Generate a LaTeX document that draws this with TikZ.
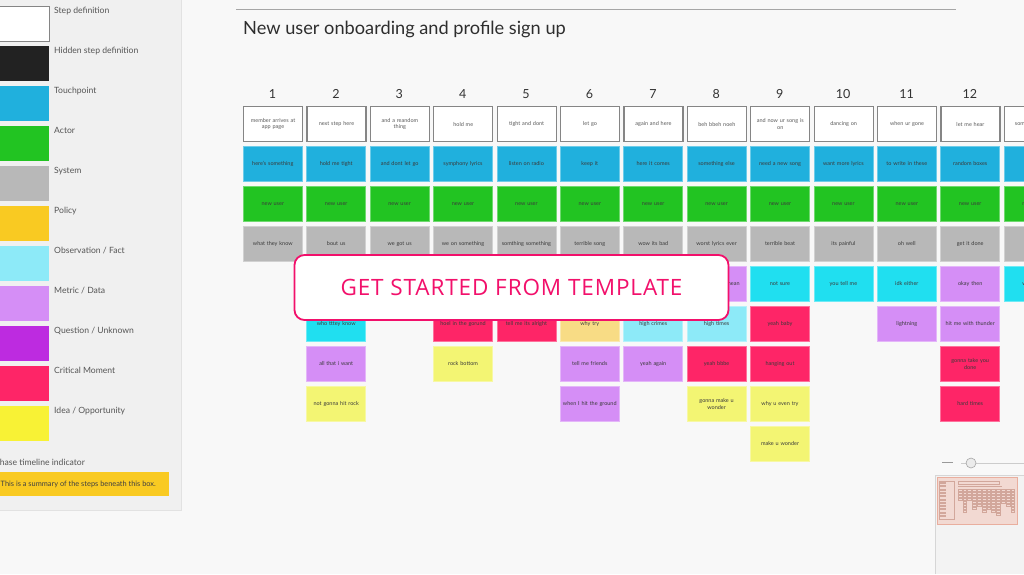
\documentclass[tikz,border=0pt]{standalone}
\usepackage{fontspec}
\setmainfont{Lato}
\newfontfamily\tmplfont[LetterSpace=4]{Open Sans}
\definecolor{bgmain}{HTML}{F8F8F8}
\definecolor{bgpanel}{HTML}{F0F0F0}
\definecolor{panelline}{HTML}{E2E2E2}
\definecolor{stepline}{HTML}{858585}
\definecolor{steptxt}{HTML}{5A5A5A}
\definecolor{cardtxt}{HTML}{3A3A3A}
\definecolor{legtxt}{HTML}{555555}
\definecolor{tpcol}{HTML}{20B0DD}
\definecolor{actcol}{HTML}{22C422}
\definecolor{syscol}{HTML}{B8B8B8}
\definecolor{polcol}{HTML}{F9CA22}
\definecolor{obscol}{HTML}{8DEAF8}
\definecolor{cyancol}{HTML}{20DFF0}
\definecolor{metcol}{HTML}{D58EF6}
\definecolor{quecol}{HTML}{BD2BE0}
\definecolor{critcol}{HTML}{FE2567}
\definecolor{ideacol}{HTML}{F8F235}
\definecolor{ideacard}{HTML}{F3F573}
\definecolor{orangecard}{HTML}{F8DC85}
\definecolor{hidcol}{HTML}{222222}
\definecolor{pinkline}{HTML}{F2106B}
\definecolor{mmbg}{HTML}{F3F3F3}
\definecolor{mmline}{HTML}{D6D6D6}
\definecolor{mmpink}{HTML}{F2D9D2}
\definecolor{mmpinkline}{HTML}{E9AE9E}
\definecolor{mmdark}{HTML}{D2A79B}
\newcommand\cardfs{\fontsize{5.5}{6.6}\selectfont}
\newcommand\legfs{\fontsize{8.6}{10}\selectfont}
\newcommand\crd[4]{\node[#3] (c#1-#2) at ({243+63.4*(#1-1)},{106+40*(#2-1)}) {#4};}
\newcommand\legsw[3]{\node[swatch,#2] (sw#1) at (-1,{5.5+40*(#1-1)}) {};
  \node[legtext] (lb#1) at (54,{13.5+40*(#1-1)}) {#3};}
\begin{document}
\begin{tikzpicture}[x=1pt,y=-1pt,
  card/.style={anchor=north west, minimum width=59pt, minimum height=35pt, inner sep=1pt,
    text width=55pt, align=center, font=\cardfs, text=cardtxt, line width=0.6pt},
  stepbox/.style={card, fill=white, draw=stepline, line width=1.1pt, text=steptxt},
  tpc/.style={card, fill=tpcol, draw=tpcol!65!white},
  actc/.style={card, fill=actcol, draw=actcol!65!white},
  sysc/.style={card, fill=syscol, draw=syscol!65!white},
  obsc/.style={card, fill=obscol, draw=obscol!65!white},
  cyanc/.style={card, fill=cyancol, draw=cyancol!65!white},
  metc/.style={card, fill=metcol, draw=metcol!65!white},
  critc/.style={card, fill=critcol, draw=critcol!65!white},
  ideac/.style={card, fill=ideacard, draw=ideacard!65!white},
  orac/.style={card, fill=orangecard, draw=orangecard!65!white},
  swatch/.style={anchor=north west, minimum width=50pt, minimum height=35pt, inner sep=0pt},
  legtext/.style={anchor=base west, inner sep=0pt, font=\legfs, text=legtxt},
  numtxt/.style={font=\fontsize{12.5}{14}\selectfont, text=black!80, inner sep=0pt}
]
\useasboundingbox (0,0) rectangle (1024,574);
\fill[bgmain] (0,0) rectangle (1024,574);
% legend panel
\fill[bgpanel] (0,0) rectangle (181.5,510);
\draw[panelline, line width=0.8pt] (181.5,0) -- (181.5,510.5) -- (0,510.5);
\legsw{1}{fill=white, draw=stepline, line width=1.1pt}{Step definition}
\legsw{2}{fill=hidcol}{Hidden step definition}
\legsw{3}{fill=tpcol}{Touchpoint}
\legsw{4}{fill=actcol}{Actor}
\legsw{5}{fill=syscol}{System}
\legsw{6}{fill=polcol}{Policy}
\legsw{7}{fill=obscol}{Observation / Fact}
\legsw{8}{fill=metcol}{Metric / Data}
\legsw{9}{fill=quecol}{Question / Unknown}
\legsw{10}{fill=critcol}{Critical Moment}
\legsw{11}{fill=ideacol}{Idea / Opportunity}
\node[legtext] (phase) at (-5.6,465.5) {Phase timeline indicator};
\node[anchor=north west, fill=polcol, minimum width=171pt, minimum height=24pt, inner sep=0pt] (summ) at (-2,472) {};
\node[anchor=west, inner sep=0pt, font=\fontsize{7.4}{8.5}\selectfont, text=black!75] (summt) at (0.5,484) {This is a summary of the steps beneath this box.};
% title
\draw[black!35, line width=0.7pt] (236,9) -- (956,9);
\node[anchor=west, inner sep=0pt, font=\fontsize{18.2}{21}\selectfont, text=black!82] (title) at (243,29) {New user onboarding and profile sign up};
% numbers
\foreach \i in {1,...,12} { \node[numtxt] (n\i) at ({272.5+63.4*(\i-1)},94) {\i}; }
% column 1
\crd{1}{1}{stepbox}{member arrives at\\app page}
\crd{1}{2}{tpc}{here's something}
\crd{1}{3}{actc}{new user}
\crd{1}{4}{sysc}{what they know}
% column 2
\crd{2}{1}{stepbox}{next step here}
\crd{2}{2}{tpc}{hold me tight}
\crd{2}{3}{actc}{new user}
\crd{2}{4}{sysc}{bout us}
\crd{2}{6}{cyanc}{who tttey know}
\crd{2}{7}{metc}{all that i want}
\crd{2}{8}{ideac}{not gonna hit rock}
% column 3
\crd{3}{1}{stepbox}{and a reandom\\thing}
\crd{3}{2}{tpc}{and dont let go}
\crd{3}{3}{actc}{new user}
\crd{3}{4}{sysc}{we got us}
% column 4
\crd{4}{1}{stepbox}{hold me}
\crd{4}{2}{tpc}{symphony lyrics}
\crd{4}{3}{actc}{new user}
\crd{4}{4}{sysc}{we on something}
\crd{4}{6}{critc}{hoel in the gorund}
\crd{4}{7}{ideac}{rock bottom}
% column 5
\crd{5}{1}{stepbox}{tight and dont}
\crd{5}{2}{tpc}{listen on radio}
\crd{5}{3}{actc}{new user}
\crd{5}{4}{sysc}{somthing something}
\crd{5}{6}{critc}{tell me its alright}
% column 6
\crd{6}{1}{stepbox}{let go}
\crd{6}{2}{tpc}{keep it}
\crd{6}{3}{actc}{new user}
\crd{6}{4}{sysc}{terrible song}
\crd{6}{6}{orac}{why try}
\crd{6}{7}{metc}{tell me friends}
\crd{6}{8}{metc}{when I hit the ground}
% column 7
\crd{7}{1}{stepbox}{again and here}
\crd{7}{2}{tpc}{here it comes}
\crd{7}{3}{actc}{new user}
\crd{7}{4}{sysc}{wow its bad}
\crd{7}{6}{obsc}{high crimes}
\crd{7}{7}{metc}{yeah again}
% column 8
\crd{8}{1}{stepbox}{beh bbeh noeh}
\crd{8}{2}{tpc}{something else}
\crd{8}{3}{actc}{new user}
\crd{8}{4}{sysc}{worst lyrics ever}
\crd{8}{5}{metc}{what do you mean}
\crd{8}{6}{obsc}{high times}
\crd{8}{7}{critc}{yeah bbbe}
\crd{8}{8}{ideac}{gonna make u\\wonder}
% column 9
\crd{9}{1}{stepbox}{and now ur song is\\on}
\crd{9}{2}{tpc}{need a new song}
\crd{9}{3}{actc}{new user}
\crd{9}{4}{sysc}{terrible beat}
\crd{9}{5}{cyanc}{not sure}
\crd{9}{6}{critc}{yeah baby}
\crd{9}{7}{critc}{hanging out}
\crd{9}{8}{ideac}{why u even try}
\crd{9}{9}{ideac}{make u wonder}
% column 10
\crd{10}{1}{stepbox}{dancing on}
\crd{10}{2}{tpc}{want more lyrics}
\crd{10}{3}{actc}{new user}
\crd{10}{4}{sysc}{its painful}
\crd{10}{5}{cyanc}{you tell me}
% column 11
\crd{11}{1}{stepbox}{when ur gone}
\crd{11}{2}{tpc}{to write in these}
\crd{11}{3}{actc}{new user}
\crd{11}{4}{sysc}{oh well}
\crd{11}{5}{cyanc}{idk either}
\crd{11}{6}{metc}{lightning}
% column 12
\crd{12}{1}{stepbox}{let me hear}
\crd{12}{2}{tpc}{random boxes}
\crd{12}{3}{actc}{new user}
\crd{12}{4}{sysc}{get it done}
\crd{12}{5}{metc}{okay then}
\crd{12}{6}{metc}{hit me with thunder}
\crd{12}{7}{critc}{gonna take you\\done}
\crd{12}{8}{critc}{hard times}
% column 13 (cut by the edge)
\crd{13}{1}{stepbox}{something here}
\crd{13}{2}{tpc}{}
\crd{13}{3}{actc}{new user}
\crd{13}{4}{sysc}{}
\crd{13}{5}{cyanc}{well then}
% template overlay
\node[draw=pinkline, line width=1.8pt, fill=white, rounded corners=10pt,
  minimum width=434pt, minimum height=65pt, inner sep=0pt,
  font=\tmplfont\fontsize{22.5}{25}\selectfont, text=pinkline] (tmpl) at (511.5,287.5) {GET STARTED FROM TEMPLATE};
% zoom control
\draw[black!40, line width=1.6pt] (942,462.5) -- (953,462.5);
\coordinate (slA) at (961,463);
\coordinate (slB) at (1024,463);
\draw[black!20, line width=0.6pt] (slA) -- (slB);
\node[circle, draw=black!35, fill=black!8, line width=0.6pt, minimum size=10pt, inner sep=0pt] (knob) at (971,463) {};
% minimap
\fill[mmbg] (935,475) rectangle (1024,574);
\draw[mmline, line width=0.8pt] (935,574) -- (935,475) -- (1024,475);
\draw[mmpinkline, fill=mmpink, line width=0.6pt] (937,477) rectangle (1017,524);
\draw[mmdark, line width=0.4pt] (939,481) rectangle (954,519);
\foreach \k in {0,...,10} { \fill[mmdark] (940,{482+3.3*\k}) rectangle (946,{484+3.3*\k}); }
\draw[mmdark, line width=0.4pt] (958,481) rectangle (999,484);
\fill[mmdark] (958,485.5) rectangle (1002,487);
\foreach \c/\n in {1/4,2/8,3/4,4/7,5/6,6/8,7/7,8/8,9/9,10/5,11/6,12/8} {
  \foreach \r in {1,...,\n} {
    \draw[mmdark, line width=0.35pt] ({958+4.8*(\c-1)},{489+3*(\r-1)}) rectangle +(3.8,2.4);
  }
}
\end{tikzpicture}
\end{document}
